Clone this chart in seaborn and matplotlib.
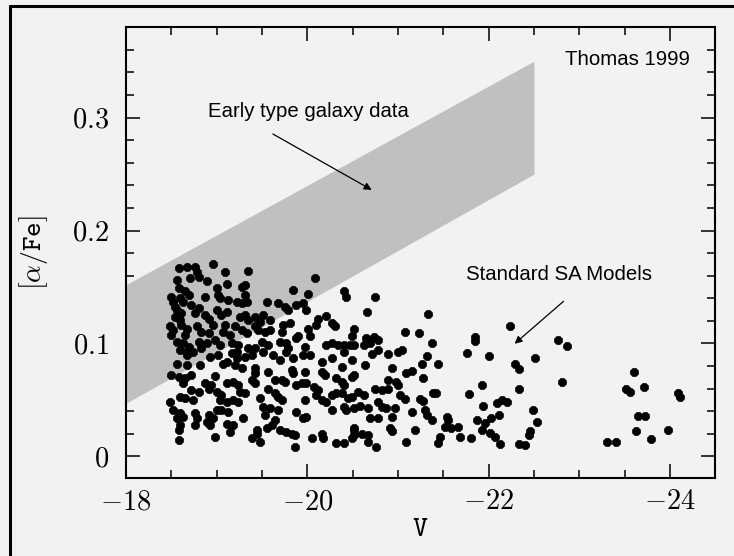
import matplotlib
matplotlib.use("Agg")
import matplotlib.pyplot as plt
import seaborn as sns
import pandas as pd
from matplotlib.lines import Line2D
from matplotlib.ticker import MultipleLocator

# ---------------- data ----------------
v_mag = [
    -18.58, -18.67, -18.76, -18.78, -18.96, -19.09, -19.35,
    -18.56, -18.71, -18.80, -18.89, -19.11, -19.28, -19.31,
    -18.58, -18.65, -18.69, -19.00, -19.02,
    -18.50, -18.52, -18.54, -18.60, -18.63, -18.87, -19.04, -19.13, -19.22, -19.28, -19.33, -19.31,
    -18.72, -18.80, -18.76, -18.56, -18.61, -18.54, -18.60, -18.87, -18.91, -19.00, -19.05, -19.11, -19.26, -19.31, -19.35, -19.42,
    -18.49, -18.52, -18.50, -18.61, -18.67, -18.65, -18.78, -18.83, -18.91, -18.96, -19.09, -19.07, -19.15, -19.20, -19.28, -19.33, -19.42,
    -18.56, -18.63, -18.69, -18.60, -18.67, -18.80, -18.89, -18.83, -18.98, -19.04, -19.17, -19.24, -19.22, -19.35,
    -18.74, -18.67, -18.93, -19.02, -19.11, -19.17, -19.22, -19.31, -19.39,
    -18.56, -18.67, -18.82, -19.07, -19.20, -19.28, -19.42,
    -18.50, -18.58, -18.65, -18.63, -18.72, -18.98, -18.87, -18.94, -19.11, -19.18, -19.24, -19.39, -19.42,
    -18.72, -18.80, -18.91, -19.00, -19.05, -19.04, -19.26, -19.31,
    -18.60, -18.65, -18.74, -18.49, -19.11, -19.18, -19.24,
    -18.52, -18.60, -18.76, -18.78, -18.91, -18.96, -19.00, -19.05, -19.13, -19.29, -18.56, -18.63,
    -18.60, -18.58, -18.76, -18.89, -18.93, -19.11, -19.18, -19.15, -19.44, -19.44,
    -18.58, -18.98, -19.39,
    -20.08, -19.84, -20.01, -20.40, -20.43, -19.55, -19.68, -19.75, -19.79, -19.88, -19.95, -19.99,
    -19.51, -19.48, -19.59, -19.81, -20.12, -20.10, -20.21, -20.27, -20.30, -20.51, -20.49,
    -19.73, -19.72, -19.46, -19.53, -19.59, -19.90, -20.01, -20.03, -19.50, -19.57, -19.70, -19.77,
    -19.79, -19.88, -19.97, -20.21, -20.27, -20.34, -20.40, -20.47, -20.52, -19.42,
    -19.51, -19.62, -19.70, -19.77, -19.84, -19.95, -20.03, -20.16, -20.27, -20.40, -20.49, -20.38,
    -19.83, -19.84, -19.97, -20.16, -20.19, -19.57, -19.42, -20.32, -20.38, -20.40, -20.49, -20.52,
    -19.64, -19.72, -19.75, -19.57, -19.88, -19.94, -19.99, -20.07, -20.12, -20.10, -19.64, -19.68,
    -19.72, -19.48, -19.97, -20.16, -20.21, -20.27, -20.32, -20.38, -20.45, -20.49, -19.51, -19.59,
    -19.68, -19.88, -19.53, -19.95, -19.99, -20.27, -20.40, -20.43, -20.52, -19.64, -19.61, -19.55,
    -19.70, -19.77, -19.83, -19.86, -20.16, -20.17, -20.05, -20.32, -20.40, -20.51, -20.52, -19.48,
    -19.86, -20.49,
    -20.75, -20.66, -21.33, -21.08, -21.23, -21.37, -20.65, -20.73, -20.78, -20.62, -20.69, -20.71,
    -20.78, -20.89, -21.00, -21.04, -21.32, -20.64, -21.26, -21.44, -20.93, -21.09, -21.15, -21.28,
    -20.89, -20.98, -21.00, -20.56, -20.62, -20.75, -20.82, -20.89, -21.02, -21.08, -21.24, -21.28,
    -21.39, -21.42, -20.58, -20.67, -20.78, -20.82, -20.87, -20.97, -21.15, -21.30, -21.32, -20.69,
    -20.78, -20.93, -21.37, -21.54, -21.55, -21.52, -21.59, -21.66, -20.52, -20.60, -20.67, -20.91,
    -20.93, -21.19, -20.67, -20.76, -21.09, -21.46, -21.44, -21.68,
    -22.24, -21.85, -21.85, -21.76, -22.00, -22.29, -22.33, -22.51, -22.77, -22.86, -22.81, -22.33,
    -21.93, -21.78, -21.94, -22.09, -22.15, -22.20, -22.11, -22.03, -21.87, -21.96, -21.93, -22.02,
    -22.07, -22.13, -21.81, -22.49, -22.53, -22.46, -22.44, -22.33, -22.40, -23.30, -23.41, -23.60,
    -23.51, -23.56, -23.71, -23.65, -23.72, -23.63, -23.79, -23.98, -24.09, -24.11,
]
alpha_fe = [
    0.1665, 0.168, 0.168, 0.1635, 0.170, 0.1635, 0.164,
    0.156, 0.158, 0.159, 0.155, 0.153, 0.150, 0.152,
    0.149, 0.146, 0.143, 0.149, 0.143,
    0.141, 0.137, 0.1325, 0.140, 0.137, 0.141, 0.140, 0.1385, 0.137, 0.1355, 0.137, 0.143,
    0.134, 0.131, 0.1267, 0.1296, 0.1267, 0.1236, 0.1207, 0.125, 0.122, 0.1296, 0.125, 0.128, 0.1236, 0.125, 0.1207, 0.1236,
    0.115, 0.112, 0.1075, 0.116, 0.113, 0.1075, 0.115, 0.110, 0.109, 0.116, 0.116, 0.110, 0.1075, 0.115, 0.112, 0.109, 0.115,
    0.1015, 0.100, 0.097, 0.094, 0.0926, 0.1015, 0.100, 0.0957, 0.103, 0.0986, 0.100, 0.0986, 0.0926, 0.0957,
    0.0926, 0.0897, 0.088, 0.0897, 0.0838, 0.0912, 0.0868, 0.088, 0.0897,
    0.082, 0.081, 0.081, 0.082, 0.081, 0.078, 0.078,
    0.072, 0.0705, 0.069, 0.0647, 0.072, 0.0712, 0.0647, 0.063, 0.0647, 0.066, 0.063, 0.0676, 0.0647,
    0.0587, 0.057, 0.060, 0.057, 0.054, 0.050, 0.057, 0.0558,
    0.0528, 0.0514, 0.050, 0.0484, 0.0484, 0.050, 0.0484,
    0.041, 0.038, 0.038, 0.0337, 0.0366, 0.0337, 0.041, 0.041, 0.0395, 0.0337, 0.0337, 0.035,
    0.0277, 0.0233, 0.0277, 0.0306, 0.0277, 0.029, 0.0277, 0.0218, 0.0233, 0.020,
    0.0144, 0.0168, 0.016,
    0.158, 0.147, 0.144, 0.146, 0.141, 0.137, 0.1355, 0.1325, 0.1296, 0.134, 0.1355, 0.1296,
    0.125, 0.119, 0.121, 0.118, 0.122, 0.116, 0.124, 0.118, 0.115, 0.113, 0.107,
    0.116, 0.110, 0.112, 0.110, 0.112, 0.107, 0.113, 0.107, 0.1015, 0.0986, 0.1015, 0.100,
    0.0957, 0.1045, 0.097, 0.0986, 0.100, 0.0986, 0.0986, 0.0986, 0.0986, 0.0957,
    0.0926, 0.0897, 0.085, 0.0926, 0.0868, 0.0897, 0.0897, 0.0838, 0.0868, 0.0926, 0.0853, 0.079,
    0.0764, 0.0735, 0.075, 0.075, 0.072, 0.075, 0.0735, 0.069, 0.066, 0.063, 0.0705, 0.072,
    0.0676, 0.0676, 0.066, 0.060, 0.063, 0.0647, 0.0647, 0.0617, 0.0587, 0.054, 0.0558, 0.0528,
    0.050, 0.0514, 0.050, 0.050, 0.0484, 0.054, 0.0558, 0.0558, 0.0514, 0.0528, 0.044, 0.0425,
    0.041, 0.0395, 0.0366, 0.0337, 0.035, 0.041, 0.044, 0.041, 0.0425, 0.032, 0.0277, 0.0248,
    0.0233, 0.0218, 0.020, 0.019, 0.020, 0.016, 0.016, 0.0115, 0.0115, 0.0248, 0.019, 0.013,
    0.0085, 0.016,
    0.141, 0.1275, 0.126, 0.110, 0.109, 0.100, 0.1045, 0.106, 0.103, 0.0987, 0.100, 0.091,
    0.094, 0.091, 0.0926, 0.094, 0.089, 0.081, 0.082, 0.082, 0.078, 0.0735, 0.0756, 0.069,
    0.0676, 0.066, 0.063, 0.057, 0.054, 0.060, 0.0587, 0.060, 0.054, 0.051, 0.051, 0.049,
    0.0558, 0.0558, 0.045, 0.0425, 0.048, 0.044, 0.0425, 0.0425, 0.0395, 0.041, 0.0366, 0.034,
    0.034, 0.035, 0.032, 0.035, 0.032, 0.026, 0.025, 0.026, 0.023, 0.020, 0.019, 0.0248,
    0.022, 0.023, 0.013, 0.0085, 0.013, 0.0174, 0.0115, 0.0174,
    0.115, 0.106, 0.102, 0.0915, 0.0886, 0.082, 0.077, 0.087, 0.103, 0.098, 0.066, 0.0596,
    0.0634, 0.0555, 0.045, 0.047, 0.050, 0.048, 0.037, 0.034, 0.0324, 0.0295, 0.0236, 0.0206,
    0.0168, 0.011, 0.0162, 0.041, 0.030, 0.022, 0.0186, 0.011, 0.0097, 0.0124, 0.0124, 0.075,
    0.0596, 0.0567, 0.061, 0.0354, 0.0354, 0.0227, 0.0153, 0.0236, 0.056, 0.0525,
]

band_v = [-18.0, -22.5]
band_low = [0.047, 0.250]
band_high = [0.152, 0.350]

x_ticks = [-18, -20, -22, -24]
x_tick_labels = [r"$-\mathtt{18}$", r"$-\mathtt{20}$", r"$-\mathtt{22}$", r"$-\mathtt{24}$"]
y_ticks = [0.0, 0.1, 0.2, 0.3]
y_tick_labels = [r"$\mathtt{0}$", r"$\mathtt{0.1}$", r"$\mathtt{0.2}$", r"$\mathtt{0.3}$"]

df = pd.DataFrame({"V": v_mag, "afe": alpha_fe})

# ---------------- style ----------------
BG = "#f2f2f2"
sns.set_theme(style="ticks")
plt.rcParams["font.family"] = ["Liberation Sans", "DejaVu Sans"]
plt.rcParams["mathtext.fontset"] = "cm"

fig = plt.figure(figsize=(7.34, 5.56), dpi=100, facecolor=BG)
ax = fig.add_axes([126 / 734, 1 - 478 / 556, (715.3 - 126) / 734, (478 - 27.3) / 556])
ax.set_facecolor(BG)

ax.fill_between(band_v, band_low, band_high, color="#c0c0c0", linewidth=0, zorder=1)
sns.scatterplot(data=df, x="V", y="afe", ax=ax, color="black", s=46, marker="8",
                linewidth=0, legend=False, zorder=3)

ax.set_xlim(-18, -24.5)
ax.set_ylim(-0.0192, 0.38)

ax.set_xticks(x_ticks)
ax.set_xticklabels(x_tick_labels)
ax.set_yticks(y_ticks)
ax.set_yticklabels(y_tick_labels)
ax.xaxis.set_minor_locator(MultipleLocator(0.5))
ax.yaxis.set_minor_locator(MultipleLocator(0.02))
ax.tick_params(which="both", direction="in", top=True, right=True, color="black",
               labelcolor="black")
ax.tick_params(which="major", length=10, width=1.1, labelsize=20.5)
ax.tick_params(axis="x", which="major", pad=8)
ax.tick_params(axis="y", which="major", pad=12)
ax.tick_params(which="minor", length=5.5, width=1.1)
for sp in ax.spines.values():
    sp.set_visible(True)
    sp.set_linewidth(1.5)
    sp.set_color("black")

ax.set_xlabel(r"$\mathtt{V}$", fontsize=20.5, color="black")
ax.set_ylabel(r"$[\alpha/\mathtt{Fe}]$", fontsize=20, color="black")
ax.xaxis.set_label_coords(0.5, (478 - 528.7) / 450.7)
ax.xaxis.label.set_va("center")
ax.yaxis.set_label_coords((33 - 126) / 589.3, 0.5)
ax.yaxis.label.set_va("center")

ax.text(-18.90, 0.3008, "Early type galaxy data", fontsize=14.7, color="black",
        va="baseline", ha="left", zorder=4)
ax.text(-24.215, 0.3466, "Thomas 1999", fontsize=14.7, color="black",
        va="baseline", ha="right", zorder=4)
ax.text(-21.75, 0.156, "Standard SA Models", fontsize=14.7, color="black",
        va="baseline", ha="left", zorder=4)

arrow_kw = dict(arrowstyle="-|>", lw=0.9, color="black", mutation_scale=11,
                shrinkA=0, shrinkB=0)
ax.annotate("", xy=(-20.71, 0.236), xytext=(-19.62, 0.2855), arrowprops=arrow_kw, zorder=4)
ax.annotate("", xy=(-22.286, 0.0997), xytext=(-22.826, 0.1373), arrowprops=arrow_kw, zorder=4)

# outer frame (left and top edges of the slide box)
fig.add_artist(Line2D([10 / 734, 10 / 734], [0, 1 - 6 / 556], transform=fig.transFigure,
                      color="black", lw=2.2))
fig.add_artist(Line2D([10 / 734, 1], [1 - 6 / 556, 1 - 6 / 556], transform=fig.transFigure,
                      color="black", lw=2.2))

fig.savefig("out.png", dpi=100, facecolor=BG)
